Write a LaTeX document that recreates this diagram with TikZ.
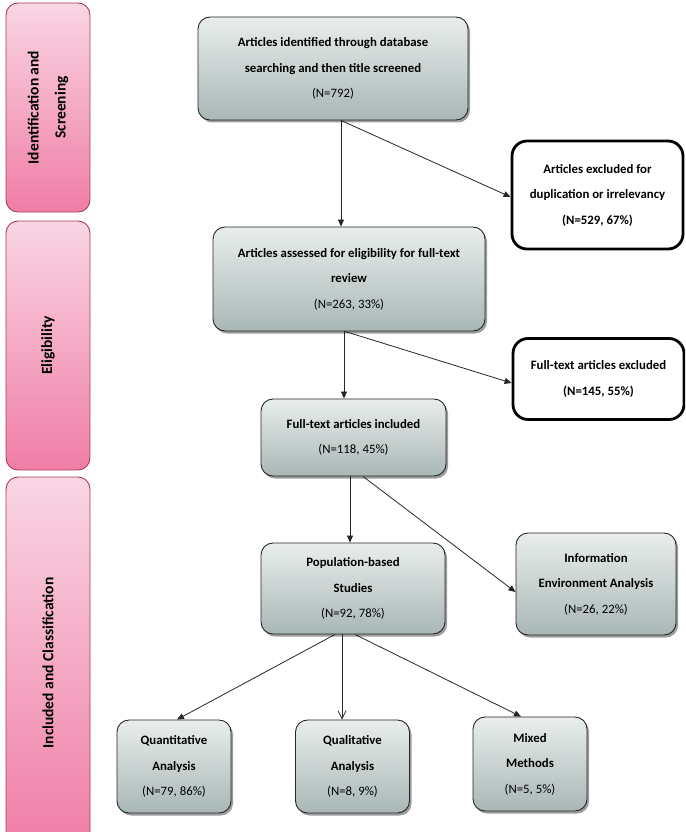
\documentclass[tikz,border=0pt]{standalone}
\usepackage{fontspec}
\setmainfont{Carlito}
\usetikzlibrary{arrows.meta,shadows}
\definecolor{gbTop}{HTML}{E9EEEC}
\definecolor{gbBot}{HTML}{A8B7B6}
\definecolor{pkTop}{HTML}{F9D6E4}
\definecolor{pkBot}{HTML}{F07DA6}
\definecolor{pkLine}{HTML}{A93A62}
\begin{document}
\begin{tikzpicture}[x=1pt,y=-1pt,
  graybox/.style={draw=black!85, line width=0.9pt, rounded corners=12pt,
    top color=gbTop, bottom color=gbBot,
    drop shadow={shadow xshift=2pt,shadow yshift=-2.5pt,opacity=0.55,fill=black!70},
    align=center, inner sep=0pt, font=\fontsize{12.8}{25.5}\selectfont},
  exbox/.style={draw=black, line width=2.8pt, rounded corners=15pt, fill=white,
    align=center, inner sep=0pt, font=\bfseries\fontsize{12.8}{25.5}\selectfont},
  phase/.style={draw=pkLine, line width=0.9pt, rounded corners=12pt,
    top color=pkTop, bottom color=pkBot, inner sep=0pt,
    minimum width=84pt, align=center},
  phasetext/.style={rotate=90, align=center, font=\bfseries\fontsize{15.5}{27}\selectfont},
  arr/.style={-{Triangle[length=7pt,width=6pt]}, line width=0.8pt, black!85},
  openarr/.style={-{Straight Barb[length=8pt,width=8pt]}, line width=0.8pt, black!85}
]
\useasboundingbox (0,0) rectangle (685,832);
\clip (0,0) rectangle (685,832);

% phase bars
\node[phase, minimum height=209pt] (p1) at (48,107.5) {};
\node[phasetext] (p1t) at (p1.center) {Identification and\\Screening};
\node[phase, minimum height=249pt] (p2) at (48,345.5) {};
\node[phasetext] (p2t) at (p2.center) {Eligibility};
\node[phase, minimum height=372pt] (p3) at (48,663) {};
\node[phasetext] (p3t) at (p3.center) {Included and Classification};

% main boxes
\node[graybox, minimum width=270pt, minimum height=103pt] (b1) at (333,68.5)
  {\textbf{Articles identified through database}\\\textbf{searching and then title screened}\\(N=792)};
\node[exbox, minimum width=171pt, minimum height=108pt] (e1) at (597.5,195)
  {Articles excluded for\\duplication or irrelevancy\\(N=529, 67\%)};
\node[graybox, minimum width=272pt, minimum height=104pt] (b2) at (349,279)
  {\textbf{Articles assessed for eligibility for full-text}\\\textbf{review}\\(N=263, 33\%)};
\node[exbox, minimum width=171pt, minimum height=81pt] (e2) at (598.5,379)
  {Full-text articles excluded\\(N=145, 55\%)};
\node[graybox, minimum width=185pt, minimum height=77pt] (b3) at (353.5,437.5)
  {\textbf{Full-text articles included}\\(N=118, 45\%)};
\node[graybox, minimum width=184pt, minimum height=91pt] (pop) at (353,588.5)
  {\textbf{Population-based}\\\textbf{Studies}\\(N=92, 78\%)};
\node[graybox, minimum width=160pt, minimum height=102pt] (info) at (596,584)
  {\textbf{Information}\\\textbf{Environment Analysis}\\(N=26, 22\%)};
\node[graybox, minimum width=114pt, minimum height=93pt] (quan) at (174,766.5)
  {\textbf{Quantitative}\\\textbf{Analysis}\\(N=79, 86\%)};
\node[graybox, minimum width=114pt, minimum height=93pt] (qual) at (352.5,766.5)
  {\textbf{Qualitative}\\\textbf{Analysis}\\(N=8, 9\%)};
\node[graybox, minimum width=114pt, minimum height=94pt] (mix) at (530,764)
  {\textbf{Mixed}\\\textbf{Methods}\\(N=5, 5\%)};

% connectors
\draw[arr] ([xshift=8pt]b1.south) -- ([xshift=8pt]b1.south |- b2.north);
\draw[arr] ([xshift=8pt]b1.south) -- ([yshift=-2pt]e1.west);
\draw[arr] ([xshift=-5pt]b2.south) -- ([xshift=-5pt]b2.south |- b3.north);
\draw[arr] ([xshift=-4pt]b2.south) -- ([yshift=-4pt]e2.west);
\draw[arr] ([xshift=-3.5pt]b3.south) -- ([xshift=-3.5pt]b3.south |- pop.north);
\draw[arr] ([xshift=9.5pt]b3.south) -- ([yshift=-8pt]info.west);
\draw[arr] ([xshift=-18pt]pop.south) -- ([xshift=3pt]quan.north);
\draw[openarr] ([xshift=-11pt]pop.south) -- ([xshift=-11pt]pop.south |- qual.north);
\draw[arr] ([xshift=2pt]pop.south) -- ([xshift=-9pt]mix.north);
\end{tikzpicture}
\end{document}
